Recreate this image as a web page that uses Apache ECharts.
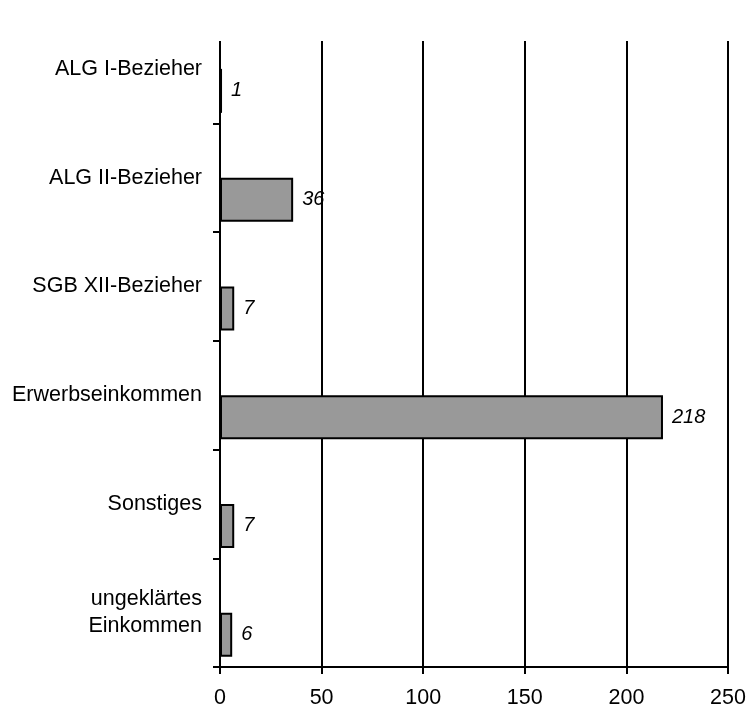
<!DOCTYPE html>
<html>
<head>
<meta charset="utf-8">
<script src="https://cdn.jsdelivr.net/npm/echarts@6/dist/echarts.min.js"></script>
<style>
html,body{margin:0;padding:0;background:#fff;}
#chart{width:749px;height:709px;}
</style>
</head>
<body>
<div id="chart"></div>
<script>
const categories = ['ALG I-Bezieher', 'ALG II-Bezieher', 'SGB XII-Bezieher', 'Erwerbseinkommen', 'Sonstiges', 'ungeklärtes\nEinkommen'];
const values = [1, 36, 7, 218, 7, 6];
const xTicks = { min: 0, max: 250, interval: 50 };

const chart = echarts.init(document.getElementById('chart'), null, { renderer: 'canvas' });
const font = 'Liberation Sans, Arial, sans-serif';
chart.setOption({
  animation: false,
  backgroundColor: '#ffffff',
  grid: { left: 220, right: 21, top: 14.5, bottom: 42, containLabel: false },
  xAxis: {
    type: 'value',
    min: xTicks.min, max: xTicks.max, interval: xTicks.interval,
    axisLine: { show: true, lineStyle: { color: '#000', width: 2 } },
    axisTick: { show: true, length: 7, lineStyle: { color: '#000', width: 2 } },
    splitLine: { show: true, lineStyle: { color: '#000', width: 2 } },
    axisLabel: { color: '#000', fontSize: 21.5, fontFamily: font, margin: 20 }
  },
  yAxis: {
    type: 'category',
    data: categories,
    inverse: true,
    axisLine: { show: true, onZero: false, lineStyle: { color: '#000', width: 2 } },
    axisTick: { show: true, length: 7, interval: 0, lineStyle: { color: '#000', width: 2 } },
    axisLabel: { color: '#000', fontSize: 21.5, fontFamily: font, margin: 18, lineHeight: 27, align: 'right', interval: 0 },
    splitLine: { show: false }
  },
  series: [
    {
      name: 'spacer',
      type: 'bar',
      data: [],
      barWidth: 44,
      barGap: '0%',
      silent: true
    },
    {
      name: 'Anzahl',
      type: 'bar',
      data: values,
      barWidth: 44,
      barGap: '0%',
      itemStyle: { color: '#999999', borderColor: '#000', borderWidth: 2 },
      label: {
        show: true, position: 'right', distance: 9,
        color: '#000', fontSize: 20, fontStyle: 'italic', fontFamily: font
      },
      z: 3
    }
  ],
  graphic: [
    { type: 'rect', left: 150, top: 0, z: 100, shape: { width: 599, height: 41 }, style: { fill: '#ffffff' } }
  ]
});
</script>
</body>
</html>
